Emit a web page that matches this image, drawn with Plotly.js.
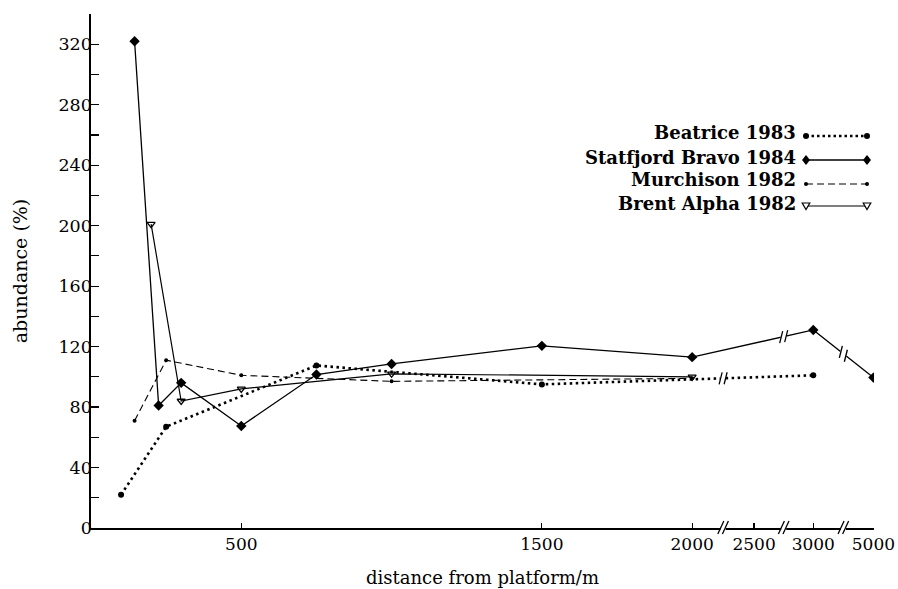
<!DOCTYPE html>
<html>
<head>
<meta charset="utf-8">
<script src="https://cdn.plot.ly/plotly-3.0.1.min.js"></script>
<style>html,body{margin:0;padding:0;background:#fff;}#chart{width:898px;height:589px;}</style>
</head>
<body>
<div id="chart"></div>
<script>
// ---- data (distance in m, abundance in %) ----
const beatriceDist = [100, 250, 750, 1500, 3000];
const beatriceVal  = [22, 67, 107.5, 95, 101];

const statfjordDist = [145, 225, 300, 500, 750, 1000, 1500, 2000, 3000, 5000];
const statfjordVal  = [322, 81, 96, 67.5, 101.5, 108.5, 120.5, 113, 131, 99.5];

const murchisonDist = [145, 250, 500, 1000, 2000];
const murchisonVal  = [71, 111, 101, 97, 99];

const brentDist = [200, 300, 500, 1000, 2000];
const brentVal  = [201, 84, 92, 102, 100];

const tickDist   = [500, 1500, 2000, 2500, 3000, 5000];
const tickLabels = ['500', '1500', '2000', '2500', '3000', '5000'];
const yTickVals  = [0, 40, 80, 120, 160, 200, 240, 280, 320];

const legendNames = ['Beatrice 1983', 'Statfjord Bravo 1984', 'Murchison 1982', 'Brent Alpha 1982'];

// ---- broken axis mapping (real distance -> axis position) ----
const segReal = [0, 2000, 2500, 3000, 5000];
const segPos  = [0, 2000, 2206, 2403, 2603];
function toAxis(d) {
  for (let i = 0; i < segReal.length - 1; i++) {
    if (d <= segReal[i + 1]) {
      return segPos[i] + (d - segReal[i]) / (segReal[i + 1] - segReal[i]) * (segPos[i + 1] - segPos[i]);
    }
  }
  return segPos[segPos.length - 1];
}
const breakPos = [];
for (let i = 1; i < segPos.length - 1; i++) breakPos.push((segPos[i] + segPos[i + 1]) / 2);

const FONT = 'DejaVu Serif';
const XR = [0, 2605], YR = [0, 340];
const M = {l: 91, r: 24, t: 14, b: 61};
const PW = 898 - M.l - M.r, PH = 589 - M.t - M.b;
const kx = PW / (XR[1] - XR[0]), ky = PH / (YR[1] - YR[0]);

const traces = [
  {x: beatriceDist.map(toAxis), y: beatriceVal, mode: 'lines+markers', name: legendNames[0],
   line: {color: '#000', width: 2.6, dash: '2.5px,3.5px'}, marker: {symbol: 'circle', size: 6, color: '#000'}},
  {x: statfjordDist.map(toAxis), y: statfjordVal, mode: 'lines+markers', name: legendNames[1],
   line: {color: '#000', width: 1.3}, marker: {symbol: 'diamond', size: 8, color: '#000'}},
  {x: murchisonDist.map(toAxis), y: murchisonVal, mode: 'lines+markers', name: legendNames[2],
   line: {color: '#000', width: 1.1, dash: '7px,4px'}, marker: {symbol: 'circle', size: 4, color: '#000'}},
  {x: brentDist.map(toAxis), y: brentVal, mode: 'lines+markers', name: legendNames[3],
   line: {color: '#000', width: 1.2}, marker: {symbol: 'triangle-down-open', size: 7, color: '#000', line: {width: 1.3, color: '#000'}}}
];

const shapes = [];
// axis break marks "//"
breakPos.forEach(pb => {
  shapes.push({type: 'line', xref: 'x', yref: 'paper', xsizemode: 'pixel', ysizemode: 'pixel', xanchor: pb, yanchor: 0,
    x0: -2.5, x1: 2.5, y0: 0, y1: 0, line: {color: '#fff', width: 4}, layer: 'above'});
  [-2.3, 2.3].forEach(o => shapes.push({type: 'line', xref: 'x', yref: 'paper', xsizemode: 'pixel', ysizemode: 'pixel',
    xanchor: pb, yanchor: 0, x0: o - 3, x1: o + 3, y0: -6, y1: 7, line: {color: '#000', width: 1.3}, layer: 'above'}));
});
// line break marks
function lineBreak(dist, val, bi) {
  const pos = dist.map(toAxis), pb = breakPos[bi];
  for (let i = 0; i < pos.length - 1; i++) {
    if (pos[i] <= pb && pb <= pos[i + 1]) {
      const yb = val[i] + (pb - pos[i]) / (pos[i + 1] - pos[i]) * (val[i + 1] - val[i]);
      const slopePx = ((val[i + 1] - val[i]) * ky) / ((pos[i + 1] - pos[i]) * kx);
      shapes.push({type: 'line', xref: 'x', yref: 'y', xsizemode: 'pixel', ysizemode: 'pixel', xanchor: pb, yanchor: yb,
        x0: -3, x1: 3, y0: -3 * slopePx, y1: 3 * slopePx, line: {color: '#fff', width: 5}, layer: 'above'});
      [-2.5, 2.5].forEach(o => shapes.push({type: 'line', xref: 'x', yref: 'y', xsizemode: 'pixel', ysizemode: 'pixel',
        xanchor: pb, yanchor: yb, x0: o - 1.5, x1: o + 1.5, y0: o * slopePx - 6, y1: o * slopePx + 6,
        line: {color: '#000', width: 1.3}, layer: 'above'}));
      return;
    }
  }
}
lineBreak(beatriceDist, beatriceVal, 0);
lineBreak(statfjordDist, statfjordVal, 1);
lineBreak(statfjordDist, statfjordVal, 2);

// manual legend (text on the left, sample on the right)
const px2x = px => (px - M.l) / PW;
const py2y = py => (M.t + PH - py) / PH;
const legTextY = [133, 157, 180, 203];
const legMarkY = [136, 160, 184, 206];
const annotations = legendNames.map((n, i) => ({
  text: '<b>' + n + '</b>', xref: 'paper', yref: 'paper', x: px2x(798), y: py2y(legTextY[i]),
  xanchor: 'right', yanchor: 'middle', showarrow: false, font: {family: FONT, size: 18, color: '#000'}
}));
const sampleX0 = px2x(806), sampleX1 = px2x(867);
const legLine = [
  {width: 2.4, dash: '2.5px,3px'}, {width: 1.3, dash: 'solid'}, {width: 1.1, dash: '7px,4px'}, {width: 1.2, dash: 'solid'}
];
legLine.forEach((l, i) => shapes.push({type: 'line', xref: 'paper', yref: 'paper', x0: sampleX0, x1: sampleX1,
  y0: py2y(legMarkY[i]), y1: py2y(legMarkY[i]), line: {color: '#000', width: l.width, dash: l.dash}}));
function legMarker(i, kind, x) {
  const base = {xref: 'paper', yref: 'paper', xsizemode: 'pixel', ysizemode: 'pixel', xanchor: x, yanchor: py2y(legMarkY[i]), layer: 'above'};
  if (kind === 'circle' || kind === 'small') {
    const r = kind === 'circle' ? 3 : 2;
    shapes.push(Object.assign({type: 'circle', x0: -r, x1: r, y0: -r, y1: r, fillcolor: '#000', line: {width: 0}}, base));
  } else if (kind === 'diamond') {
    shapes.push(Object.assign({type: 'path', path: 'M0,-5 L4,0 L0,5 L-4,0 Z', fillcolor: '#000', line: {width: 0}}, base));
  } else {
    shapes.push(Object.assign({type: 'path', path: 'M-3.8,3 L3.8,3 L0,-3.6 Z', fillcolor: '#fff', line: {width: 1.2, color: '#000'}}, base));
  }
}
['circle', 'diamond', 'small', 'tri'].forEach((k, i) => { legMarker(i, k, sampleX0); legMarker(i, k, sampleX1); });

const layout = {
  width: 898, height: 589, margin: M, paper_bgcolor: '#fff', plot_bgcolor: '#fff',
  showlegend: false, font: {family: FONT, color: '#000', size: 17},
  xaxis: {range: XR, showgrid: false, zeroline: false, showline: true, linecolor: '#000', linewidth: 1.6,
    tickmode: 'array', tickvals: tickDist.map(toAxis), ticktext: tickLabels, ticks: 'inside', ticklen: 5,
    tickwidth: 1.2, tickcolor: '#000', tickfont: {family: FONT, size: 17, color: '#000'},
    title: {text: 'distance from platform/m', font: {family: FONT, size: 18, color: '#000'}, standoff: 18}},
  yaxis: {range: YR, showgrid: false, zeroline: false, showline: true, linecolor: '#000', linewidth: 1.6,
    tickmode: 'array', tickvals: yTickVals, ticks: 'inside', ticklen: 8, tickwidth: 1.2, tickcolor: '#000',
    ticklabelstandoff: -6,
    minor: {dtick: 20, tick0: 0, ticks: 'inside', ticklen: 8, tickwidth: 1.2, tickcolor: '#000'},
    tickfont: {family: FONT, size: 17.5, color: '#000'},
    title: {text: 'abundance (%)', font: {family: FONT, size: 19, color: '#000'}, standoff: 26}},
  shapes: shapes, annotations: annotations
};
Plotly.newPlot('chart', traces, layout, {displayModeBar: false, staticPlot: true});
</script>
</body>
</html>
